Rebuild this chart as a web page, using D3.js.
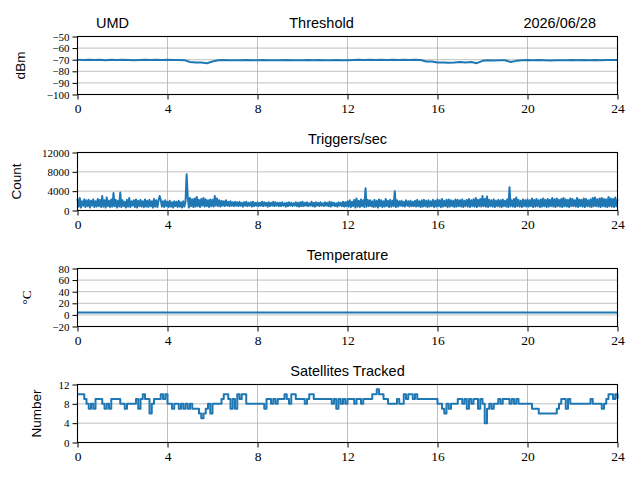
<!DOCTYPE html>
<html>
<head>
<meta charset="utf-8">
<script src="https://cdn.jsdelivr.net/npm/d3@7"></script>
<style>
  body { margin: 0; background: #fff; }
  svg { display: block; }
  .tick text { font-family: "Liberation Serif", serif; font-size: 13.5px; fill: #000; }
  .ytick .tick text { font-size: 11px; }
  .ttl { font-family: "Liberation Sans", sans-serif; font-size: 14.5px; fill: #000; }
  .ylab { font-family: "Liberation Sans", sans-serif; font-size: 13.5px; fill: #000; }
</style>
</head>
<body>
<svg id="chart" width="640" height="480"></svg>
<script>
// ---- data (hours of the day on x) ----
const hourTicks = [0, 4, 8, 12, 16, 20, 24];

// threshold, one reading every 15 min
const thresholdStep = 0.25;
const thresholdDbm = [
  -70, -70.3, -70, -70.2, -70, -70.4, -70, -70.2,
  -70, -70.3, -70.5, -70.2, -70, -70.3, -70, -70.2,
  -70, -70.3, -70.2, -70.4, -72, -72.5, -72.5, -73,
  -71.5, -70.5, -70.3, -70.5, -70.4, -70.5, -70.3, -70.5,
  -70.5, -70.3, -70.5, -70.4, -70.5, -70.3, -70.5, -70.4,
  -70.5, -70.3, -70.5, -70.2, -70.4, -70.5, -70.3, -70.5,
  -70.4, -70.2, -70, -70.2, -70, -70.3, -70, -70.2,
  -70, -70.2, -70, -70.3, -70, -70.2, -71.5, -71.5,
  -72.5, -72.5, -72.6, -72.5, -72, -72.5, -72, -73,
  -71, -70.5, -70.6, -70.5, -70.5, -72, -71, -70.5,
  -70.3, -70.5, -70.3, -70.5, -70.6, -70.5, -70.4, -70.5,
  -70.3, -70.5, -70.2, -70.4, -70.2, -70.4, -70.3, -70.2,
  -70.3
];

// triggers per second, one reading every 3 min (one row per hour)
const triggerStep = 0.05;
const triggersPerSec = [
  2400, 800, 2600, 600, 1900, 1000, 2300, 700, 2100, 900, 2200, 600, 2000, 1000, 2300, 700, 1900, 800, 2400, 900,
  2200, 700, 3000, 800, 2100, 600, 2700, 900, 2000, 700, 2300, 800, 3600, 900, 2200, 600, 2000, 800, 3700, 700,
  2100, 900, 1800, 600, 2200, 800, 2600, 700, 1900, 1000, 2100, 700, 2300, 600, 2000, 900, 2200, 800, 1900, 700,
  2300, 800, 2000, 700, 2200, 900, 1900, 600, 2400, 800, 2100, 700, 2000, 3000, 2200, 800, 1900, 700, 2100, 900,
  1800, 700, 2000, 800, 1700, 600, 1900, 900, 1800, 700, 2000, 800, 1700, 600, 1900, 800, 1800, 7500, 2700, 600,
  2600, 900, 2300, 700, 2500, 800, 2800, 900, 2200, 700, 2400, 1000, 2600, 800, 2300, 900, 2100, 700, 2300, 900,
  2200, 800, 3000, 1000, 2500, 900, 2100, 800, 2000, 1000, 1900, 900, 2100, 1000, 1800, 900, 1900, 1000, 1700, 900,
  1800, 1000, 1700, 900, 1800, 1000, 1600, 800, 1700, 1000, 1800, 900, 1600, 1000, 1700, 800, 1800, 900, 1600, 1000,
  1700, 900, 1600, 1000, 1800, 900, 1700, 1000, 1600, 800, 1700, 900, 1600, 1000, 1800, 900, 1700, 1000, 1600, 900,
  1600, 900, 1700, 1000, 1500, 800, 1600, 900, 1700, 1000, 1600, 900, 1500, 1000, 1700, 900, 1600, 800, 1700, 900,
  1800, 900, 1600, 1000, 1700, 900, 1500, 1000, 1800, 900, 1600, 800, 1700, 1000, 1600, 900, 1700, 1000, 1500, 900,
  1700, 1000, 1600, 900, 1800, 800, 1700, 1000, 1600, 900, 1500, 800, 1700, 1000, 1600, 900, 1800, 800, 1700, 900,
  1900, 800, 2100, 700, 1800, 900, 2200, 600, 2500, 800, 2000, 700, 2300, 900, 2100, 700, 4600, 800, 2200, 900,
  2100, 900, 1900, 700, 2200, 800, 2000, 600, 2300, 900, 2100, 700, 1900, 800, 2400, 900, 2000, 700, 2200, 800,
  2000, 900, 4000, 700, 2100, 800, 1900, 1000, 2000, 900, 1800, 800, 2100, 1000, 1900, 800, 2000, 900, 1800, 900,
  2000, 800, 2200, 900, 1900, 700, 2100, 800, 2200, 900, 2000, 700, 2100, 800, 1900, 900, 2200, 700, 2000, 800,
  2300, 900, 2100, 700, 2400, 800, 2000, 900, 2200, 700, 2300, 800, 2100, 900, 2000, 700, 2300, 800, 2200, 900,
  2100, 800, 2300, 700, 2000, 900, 2200, 800, 2400, 700, 2100, 900, 2300, 800, 2600, 700, 2200, 900, 2400, 800,
  3000, 900, 2400, 800, 2900, 700, 2200, 900, 2100, 800, 2300, 700, 2000, 900, 2200, 800, 2100, 700, 2300, 900,
  2000, 800, 2300, 700, 4800, 900, 2100, 800, 2400, 700, 2700, 900, 2200, 800, 2000, 700, 2300, 900, 2100, 800,
  2300, 800, 2100, 900, 2500, 700, 2200, 800, 2400, 900, 2100, 700, 2300, 800, 2500, 900, 2200, 700, 2400, 800,
  2200, 900, 2600, 800, 2300, 700, 2500, 900, 2200, 800, 2400, 700, 2600, 900, 2300, 800, 2200, 700, 2500, 900,
  2400, 900, 2100, 800, 2600, 700, 2300, 900, 2200, 800, 2500, 700, 2400, 900, 2100, 800, 2300, 700, 2600, 900,
  2700, 900, 2300, 800, 2500, 700, 2600, 900, 2400, 800, 2300, 700, 2800, 900, 2500, 800, 2400, 700, 2700, 900,
  2300
];

// temperature, hourly
const temperatureStep = 1;
const temperatureC = [
  4, 4, 4, 4, 4, 4, 4, 4, 4, 4, 4, 4, 4,
  4, 4, 4, 4, 4, 4, 4, 4, 4, 4, 4, 4
];

// satellites tracked, one reading every 6 min
const satelliteStep = 0.1;
const satellitesTracked = [
  10, 10, 10, 9, 8, 7, 8, 7, 9, 9,
  9, 8, 7, 8, 7, 9, 9, 9, 9, 8,
  8, 7, 8, 8, 8, 8, 9, 7, 9, 10,
  9, 9, 6, 8, 9, 9, 9, 10, 9, 10,
  8, 8, 7, 8, 8, 7, 8, 7, 8, 7,
  8, 7, 7, 7, 6, 5, 6, 7, 8, 6,
  8, 8, 8, 8, 9, 10, 10, 9, 7, 9,
  7, 10, 9, 10, 10, 8, 8, 8, 8, 8,
  8, 8, 8, 7, 9, 9, 8, 9, 8, 9,
  9, 9, 10, 9, 8, 10, 10, 9, 9, 9,
  9, 8, 9, 10, 10, 9, 9, 9, 9, 9,
  9, 9, 9, 8, 9, 7, 9, 8, 9, 8,
  9, 9, 9, 8, 9, 9, 8, 9, 9, 9,
  9, 10, 10, 11, 10, 10, 9, 9, 8, 8,
  8, 8, 9, 8, 8, 10, 9, 10, 10, 9,
  10, 9, 9, 9, 9, 9, 9, 9, 9, 9,
  8, 8, 7, 6, 8, 7, 8, 8, 8, 9,
  9, 8, 9, 7, 9, 8, 9, 9, 7, 9,
  8, 4, 7, 8, 7, 8, 8, 9, 8, 9,
  9, 9, 8, 9, 8, 9, 8, 8, 8, 8,
  8, 8, 7, 7, 7, 6, 6, 6, 6, 6,
  6, 6, 6, 7, 8, 9, 9, 7, 9, 8,
  8, 8, 8, 8, 8, 8, 8, 8, 9, 8,
  8, 8, 8, 7, 8, 9, 10, 10, 9, 10,
  9
];

const thresholdTicks = [-100, -90, -80, -70, -60, -50];
const triggerTicks = [0, 4000, 8000, 12000];
const temperatureTicks = [-20, 0, 20, 40, 60, 80];
const satelliteTicks = [0, 4, 8, 12];

const stationName = "UMD";
const dateLabel = "2026/06/28";

// ---- layout ----
const svg = d3.select("#chart");
svg.append("rect").attr("width", 640).attr("height", 480).attr("fill", "#fff");

const left = 77.5, right = 617.5;
const blue = "#1f77b4";

const panels = [
  { title: "Threshold", titleX: 321.5, ylabel: "dBm", ylabX: 25, top: 36.5, bottom: 94.5,
    values: thresholdDbm, step: thresholdStep, ticks: thresholdTicks, curve: d3.curveLinear },
  { title: "Triggers/sec", ylabel: "Count", ylabX: 21, top: 152.5, bottom: 210.5,
    values: triggersPerSec, step: triggerStep, ticks: triggerTicks, curve: d3.curveLinear },
  { title: "Temperature", ylabel: "\u00b0C", ylabX: 31, top: 268.5, bottom: 326.5, serifLabel: true,
    values: temperatureC, step: temperatureStep, ticks: temperatureTicks, curve: d3.curveLinear },
  { title: "Satellites Tracked", ylabel: "Number", ylabX: 41, top: 384.5, bottom: 442.5,
    values: satellitesTracked, step: satelliteStep, ticks: satelliteTicks, curve: d3.curveStepAfter }
];

const x = d3.scaleLinear().domain([0, 24]).range([left, right]);

panels.forEach(p => {
  const y = d3.scaleLinear()
    .domain(d3.extent(p.ticks))
    .range([p.bottom, p.top]);

  const g = svg.append("g");

  // grid
  g.selectAll(".gx").data(hourTicks).join("line")
    .attr("x1", d => x(d)).attr("x2", d => x(d))
    .attr("y1", p.top).attr("y2", p.bottom)
    .attr("stroke", "#b0b0b0").attr("stroke-width", 0.8);
  g.selectAll(".gy").data(p.ticks).join("line")
    .attr("x1", left).attr("x2", right)
    .attr("y1", d => y(d)).attr("y2", d => y(d))
    .attr("stroke", "#b0b0b0").attr("stroke-width", 0.8);

  // series
  const line = d3.line()
    .x((d, i) => x(i * p.step))
    .y(d => y(d))
    .curve(p.curve);
  g.append("path")
    .attr("d", line(p.values))
    .attr("fill", "none")
    .attr("stroke", blue)
    .attr("stroke-width", 2)
    .attr("stroke-linejoin", "round");

  // axes
  const xAxis = d3.axisBottom(x).tickValues(hourTicks).tickSize(5).tickPadding(4)
    .tickFormat(d3.format("d"));
  g.append("g").attr("transform", `translate(0,${p.bottom})`).call(xAxis)
    .call(a => a.select(".domain").remove());

  const yAxis = d3.axisLeft(y).tickValues(p.ticks).tickSize(5).tickPadding(3)
    .tickFormat(d => d < 0 ? "\u2212" + Math.abs(d) : String(d));
  g.append("g").attr("class", "ytick").attr("transform", `translate(${left},0)`).call(yAxis)
    .call(a => a.select(".domain").remove());

  g.selectAll(".tick line").attr("stroke", "#000").attr("stroke-width", 1);
  g.selectAll(".tick text").attr("fill", "#000");

  // frame
  g.append("rect")
    .attr("x", left).attr("y", p.top)
    .attr("width", right - left).attr("height", p.bottom - p.top)
    .attr("fill", "none").attr("stroke", "#000").attr("stroke-width", 1.1);

  // titles
  g.append("text").attr("class", "ttl")
    .attr("x", p.titleX || (left + right) / 2).attr("y", p.top - 9)
    .attr("text-anchor", "middle").text(p.title);

  g.append("text").attr("class", "ylab")
    .attr("transform", `translate(${p.ylabX},${(p.top + p.bottom) / 2}) rotate(-90)`)
    .attr("text-anchor", "middle")
    .style("font-family", p.serifLabel ? "'Liberation Serif', serif" : null)
    .text(p.ylabel);
});

svg.append("text").attr("class", "ttl").attr("x", 96).attr("y", 27.5).text(stationName);
svg.append("text").attr("class", "ttl").attr("x", 596).attr("y", 27.5)
  .attr("text-anchor", "end").text(dateLabel);
</script>
</body>
</html>
